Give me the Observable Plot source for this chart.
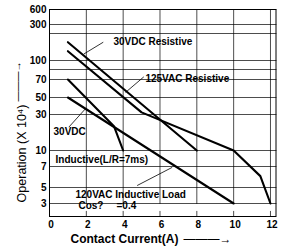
<!DOCTYPE html>
<html><head><meta charset="utf-8">
<script src="https://cdn.jsdelivr.net/npm/d3@7"></script>
<script src="https://cdn.jsdelivr.net/npm/@observablehq/plot@0.6"></script>
<style>body{margin:0;background:#fff}svg{display:block}</style>
</head><body><div id="chart"></div>
<script>
// ---- data ----
const xTicks = [0, 2, 4, 6, 8, 10, 12];
const yTicks = [3, 5, 7, 10, 30, 50, 70, 100, 300, 600];
const yGridExtra = [80, 200];
const xGrid = [2, 4, 6, 8, 10, 12];

const seriesNames = ["30VDC Resistive", "125VAC Resistive", "30VDC Inductive(L/R=7ms)", "120VAC Inductive Load"];
const dc30ResCurrent = [1, 8];
const dc30ResOps = [160, 10];
const ac125ResCurrent = [1, 5, 10, 11.45, 12];
const ac125ResOps = [127, 32, 10, 6, 3];
const dc30IndCurrent = [1, 3.5, 4];
const dc30IndOps = [70, 21, 10];
const ac120IndCurrent = [1, 10];
const ac120IndOps = [50, 3];

const labelTexts = ["30VDC Resistive", "125VAC Resistive", "30VDC", "Inductive(L/R=7ms)", "120VAC Inductive Load", "Cos?", "=0.4"];
const labelX = [3.47, 5.21, 0.22, 0.33, 1.41, 1.57, 3.64];
const labelY = [160, 71, 17.5, 8.2, 4.0, 2.82, 2.82];

const pointerX1 = [2.92, 5.12, 1.05, 4.76];
const pointerY1 = [160, 72.5, 20.4, 5.16];
const pointerX2 = [1.86, 4.13, 1.95, 6.66];
const pointerY2 = [118, 55, 35.6, 6.9];

const xTitle = "Contact Current(A)";
const yTitle = "Operation (X 10⁴)";

// ---- scale setup ----
const X_MAX = 12.3;
const Y_MIN = 2, Y_GRID_BOTTOM = 3, Y_MAX = 600, TICK_TOP = 2.35;

// ---- tables ----
const series = [
  [dc30ResCurrent, dc30ResOps], [ac125ResCurrent, ac125ResOps],
  [dc30IndCurrent, dc30IndOps], [ac120IndCurrent, ac120IndOps]
];
const lineData = series.flatMap(([xs, ys], i) => xs.map((x, j) => ({series: seriesNames[i], x, y: ys[j]})));
const labels = labelTexts.map((t, i) => ({t, x: labelX[i], y: labelY[i]}));
const pointers = pointerX1.map((x1, i) => ({x1, y1: pointerY1[i], x2: pointerX2[i], y2: pointerY2[i]}));
const hGrid = [...yTicks, ...yGridExtra].flatMap(v => [{k: "h" + v, x: 0, y: v}, {k: "h" + v, x: X_MAX, y: v}]);
const vGrid = xGrid.flatMap(v => [{k: "v" + v, x: v, y: Y_GRID_BOTTOM}, {k: "v" + v, x: v, y: Y_MAX}]);
const vStubs = xGrid.flatMap(v => [{k: "s" + v, x: v, y: Y_MIN}, {k: "s" + v, x: v, y: TICK_TOP}]);

const FONT = "Liberation Sans, Arial, sans-serif";
const gridColor = "#000";

const chart = Plot.plot({
  width: 283,
  height: 252,
  marginLeft: 49,
  marginRight: 7.5,
  marginTop: 9,
  marginBottom: 36,
  x: {type: "linear", domain: [0, X_MAX], axis: null},
  y: {
    type: "log",
    domain: [2, 3, 5, 7, 10, 30, 50, 70, 80, 100, 200, 300, 600],
    range: [216, 203, 187, 166, 150, 114, 97, 79, 69, 60, 33, 24, 9],
    axis: null
  },
  marks: [
    Plot.line(hGrid, {x: "x", y: "y", z: "k", stroke: gridColor, strokeWidth: 0.7}),
    Plot.line(vGrid, {x: "x", y: "y", z: "k", stroke: gridColor, strokeWidth: 0.7}),
    Plot.line(vStubs, {x: "x", y: "y", z: "k", stroke: gridColor, strokeWidth: 0.7}),
    Plot.frame({stroke: "#000", strokeWidth: 1}),
    Plot.line(lineData, {x: "x", y: "y", z: "series", stroke: "#000", strokeWidth: 2.1}),
    Plot.link(pointers, {x1: "x1", y1: "y1", x2: "x2", y2: "y2", stroke: "#000", strokeWidth: 0.8}),
    Plot.text(labels, {x: "x", y: "y", text: "t", textAnchor: "start", fontSize: 10, fontWeight: "bold",
      fontFamily: FONT, fill: "#000"}),
    Plot.text(yTicks, {y: d => d, text: d => String(d), frameAnchor: "left", textAnchor: "end", dx: -3,
      fontSize: 10, fontWeight: "bold", fontFamily: FONT, fill: "#000"}),
    Plot.text(xTicks, {x: d => d, text: d => String(d), frameAnchor: "bottom", lineAnchor: "top", dy: 4, dx: 1.5,
      fontSize: 10, fontWeight: "bold", fontFamily: FONT, fill: "#000"}),
    Plot.text([xTitle], {frameAnchor: "bottom-left", textAnchor: "start", dx: 21, dy: 26,
      fontSize: 12, fontWeight: "bold", fontFamily: FONT, fill: "#000"}),
    Plot.text(["———→"], {frameAnchor: "bottom-left", textAnchor: "start", dx: 134, dy: 26,
      fontSize: 12, fontFamily: FONT, fill: "#000"}),
    Plot.text([yTitle], {frameAnchor: "left", textAnchor: "middle", rotate: -90, dx: -28, dy: 40.5,
      fontSize: 12.5, fontFamily: FONT, fill: "#000"}),
    Plot.text(["———→"], {frameAnchor: "left", textAnchor: "middle", rotate: -90, dx: -32, dy: -31.5,
      fontSize: 10, fontFamily: FONT, fill: "#000"})
  ]
});

document.getElementById("chart").appendChild(chart);
</script>
</body></html>
